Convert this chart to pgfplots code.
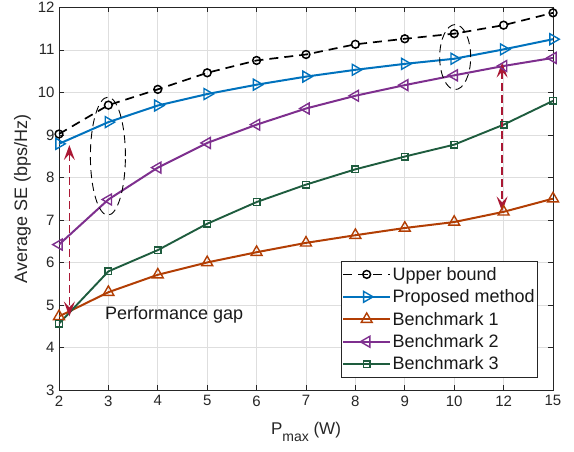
\documentclass[border=0pt]{standalone}
\usepackage{pgfplots}
\pgfplotsset{compat=1.18}
\usepackage{fontspec}
\setmainfont{Liberation Sans}
\usetikzlibrary{arrows.meta}
\definecolor{cUB}{RGB}{0,0,0}
\definecolor{cProp}{RGB}{0,114,189}
\definecolor{cB1}{RGB}{178,62,4}
\definecolor{cB2}{RGB}{126,47,142}
\definecolor{cB3}{RGB}{30,92,62}
\definecolor{cArr}{RGB}{170,24,52}
\definecolor{cAx}{RGB}{38,38,38}
\begin{document}
\begin{tikzpicture}
\begin{axis}[
  scale only axis,
  width=494pt, height=382.7pt,
  xmin=0, xmax=10, ymin=3, ymax=12,
  xtick={0,1,2,3,4,5,6,7,8,9,10},
  xticklabels={2,3,4,5,6,7,8,9,10,12,15},
  ytick={3,4,5,6,7,8,9,10,11,12},
  /pgf/number format/assume math mode=true,
  tick label style={font=\fontsize{15}{17}\selectfont, text=cAx},
  xticklabel style={yshift=-2pt},
  yticklabel style={xshift=-1pt},
  tick align=inside,
  major tick length=5pt,
  axis line style={cAx, line width=0.8pt},
  every tick/.style={cAx, line width=0.6pt},
  grid=major,
  major grid style={black!13, line width=0.6pt},
  xlabel={P\raisebox{-7pt}{\fontsize{14}{14}\selectfont max} (W)},
  ylabel={Average SE (bps/Hz)},
  ylabel style={font=\fontsize{18}{21}\selectfont, text=cAx},
  xlabel style={font=\fontsize{17}{20}\selectfont, text=cAx, yshift=-9pt},
  legend style={at={(0.9696,0.0314)}, anchor=south east,
    font=\fontsize{18}{21}\selectfont, draw=cAx, line width=0.7pt, fill=white,
    inner xsep=1.5pt, inner ysep=4pt, row sep=3.5pt,
    nodes={inner xsep=1.5pt, inner ysep=2.2pt},
    cells={anchor=west, text=black!90}},
  legend image code/.code={
    \draw[mark repeat=2,mark phase=2] plot coordinates {(0cm,0cm) (0.82cm,0cm) (1.64cm,0cm)};
  },
]
\addplot[cUB, line width=1.7pt, dash pattern=on 9pt off 6pt, mark=o, mark size=3.9pt,
  mark options={solid, line width=1.5pt}]
  coordinates {(0,9.02) (1,9.70) (2,10.07) (3,10.46) (4,10.75) (5,10.89) (6,11.13) (7,11.26) (8,11.38) (9,11.58) (10,11.87)};
\addlegendentry{Upper bound}
\addplot[cProp, line width=2pt, mark=triangle, mark size=6.3pt,
  mark options={solid, line width=1.4pt, rotate=-90}]
  coordinates {(0,8.79) (1,9.30) (2,9.69) (3,9.96) (4,10.18) (5,10.37) (6,10.53) (7,10.67) (8,10.79) (9,11.01) (10,11.25)};
\addlegendentry{Proposed method}
\addplot[cB1, line width=2pt, mark=triangle, mark size=6.3pt,
  mark options={solid, line width=1.4pt}]
  coordinates {(0,4.73) (1,5.30) (2,5.71) (3,6.00) (4,6.24) (5,6.46) (6,6.64) (7,6.81) (8,6.95) (9,7.19) (10,7.50)};
\addlegendentry{Benchmark 1}
\addplot[cB2, line width=2pt, mark=triangle, mark size=6.3pt,
  mark options={solid, line width=1.4pt, rotate=90}]
  coordinates {(0,6.42) (1,7.48) (2,8.23) (3,8.81) (4,9.24) (5,9.62) (6,9.92) (7,10.17) (8,10.40) (9,10.62) (10,10.81)};
\addlegendentry{Benchmark 2}
\addplot[cB3, line width=1.9pt, mark=square, mark size=3.3pt,
  mark options={solid, line width=1.4pt}]
  coordinates {(0,4.56) (1,5.79) (2,6.29) (3,6.91) (4,7.42) (5,7.83) (6,8.19) (7,8.49) (8,8.77) (9,9.24) (10,9.80)};
\addlegendentry{Benchmark 3}
% annotations
\draw[black, line width=0.9pt, dash pattern=on 8pt off 5pt] (axis cs:0.99,8.50) ellipse [x radius=17.5pt, y radius=59pt];
\draw[black, line width=0.9pt, dash pattern=on 8pt off 5pt] (axis cs:8.02,10.83) ellipse [x radius=15.5pt, y radius=32.5pt];
\draw[cArr, line width=1.5pt, dash pattern=on 8pt off 4pt, {Stealth[length=15pt,width=11pt,inset=6pt]}-{Stealth[length=15pt,width=11pt,inset=6pt]}]
  (axis cs:0.21,8.76) -- (axis cs:0.21,4.73);
\draw[cArr, line width=1.5pt, dash pattern=on 8pt off 4pt, {Stealth[length=15pt,width=11pt,inset=6pt]}-{Stealth[length=15pt,width=11pt,inset=6pt]}]
  (axis cs:8.97,10.70) -- (axis cs:8.97,7.20);
\node[anchor=base west, inner sep=0pt, font=\fontsize{18}{21}\selectfont, text=black!90] at (axis cs:0.93,4.65) {Performance gap};
\end{axis}
\pgfresetboundingbox
\path[use as bounding box] (-59pt,-61pt) rectangle (515pt,390pt);
\end{tikzpicture}
\end{document}
